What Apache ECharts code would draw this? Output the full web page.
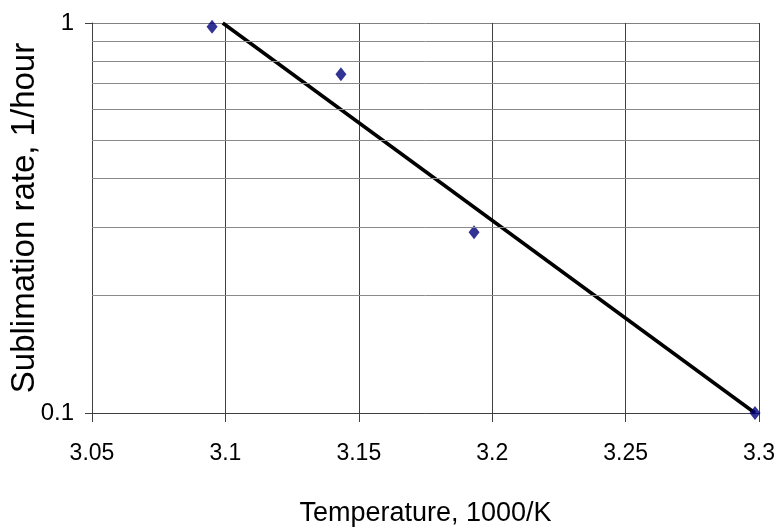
<!DOCTYPE html>
<html>
<head>
<meta charset="utf-8">
<script src="https://cdn.jsdelivr.net/npm/echarts@6/dist/echarts.min.js"></script>
<style>html,body{margin:0;padding:0;background:#fff;}#c{width:777px;height:531px;}</style>
</head>
<body>
<div id="c"></div>
<script>
// Measured data points (Temperature 1000/K, sublimation rate 1/hour)
var tempX = [3.095, 3.1433, 3.1932, 3.2985];
var rateY = [0.978, 0.739, 0.2905, 0.1];
// Trend line endpoints
var trendX = [3.099, 3.2985];
var trendY = [1.0, 0.1];
// Minor horizontal gridlines on log axis
var minorGrid = [0.2, 0.3, 0.4, 0.5, 0.6, 0.7, 0.8, 0.9];
var xTicks = [3.05, 3.1, 3.15, 3.2, 3.25, 3.3];

var narrow = "'Liberation Sans Narrow', 'Arial Narrow', 'Liberation Sans', Arial, sans-serif";
var chart = echarts.init(document.getElementById('c'), null, {renderer: 'canvas'});
chart.setOption({
  animation: false,
  backgroundColor: '#ffffff',
  grid: {left: 92, right: 18, top: 23, bottom: 118, containLabel: false, outerBoundsMode: 'none'},
  xAxis: {
    type: 'value', min: 3.05, max: 3.3, interval: 0.05,
    name: 'Temperature, 1000/K', nameLocation: 'middle', nameGap: 87, nameMoveOverlap: false,
    nameTextStyle: {fontFamily: narrow, fontSize: 27, color: '#000'},
    axisLine: {show: true, onZero: false, lineStyle: {color: '#404040', width: 1}},
    axisTick: {show: true, inside: false, length: 9, lineStyle: {color: '#404040'}},
    axisLabel: {margin: 29, fontFamily: narrow, fontSize: 23, color: '#000',
      formatter: function (v) { return String(+v.toFixed(2)); }},
    splitLine: {show: true, lineStyle: {color: '#404040', width: 1}}
  },
  yAxis: {
    type: 'log', logBase: 10, min: 0.1, max: 1,
    name: 'Sublimation rate, 1/hour', nameLocation: 'middle', nameGap: 51, nameMoveOverlap: false,
    nameTextStyle: {fontFamily: "'Liberation Sans', Arial, sans-serif", fontSize: 33, color: '#000'},
    axisLine: {show: true, lineStyle: {color: '#404040', width: 1}},
    axisTick: {show: true, inside: false, length: 7, lineStyle: {color: '#404040'}},
    axisLabel: {margin: 18, fontFamily: narrow, fontSize: 24, color: '#000',
      formatter: function (v) { return String(+v.toFixed(2)); }},
    splitLine: {show: true, lineStyle: {color: '#808080', width: 1}}
  },
  series: [
    {
      type: 'line', name: 'grid', data: [], silent: true,
      markLine: {
        silent: true, symbol: ['none', 'none'], label: {show: false},
        lineStyle: {color: '#8a8a8a', width: 1, type: 'solid'},
        data: minorGrid.map(function (v) { return {yAxis: v}; })
      }
    },
    {
      type: 'line', name: 'trend', showSymbol: false, symbol: 'none',
      lineStyle: {color: '#000', width: 3.5},
      data: trendX.map(function (x, i) { return [x, trendY[i]]; }),
      z: 3
    },
    {
      type: 'scatter', name: 'data', symbol: 'diamond', symbolSize: [11, 14],
      itemStyle: {color: '#00007a'},
      data: tempX.map(function (x, i) { return [x, rateY[i]]; }),
      z: 4
    }
  ]
});
</script>
</body>
</html>
